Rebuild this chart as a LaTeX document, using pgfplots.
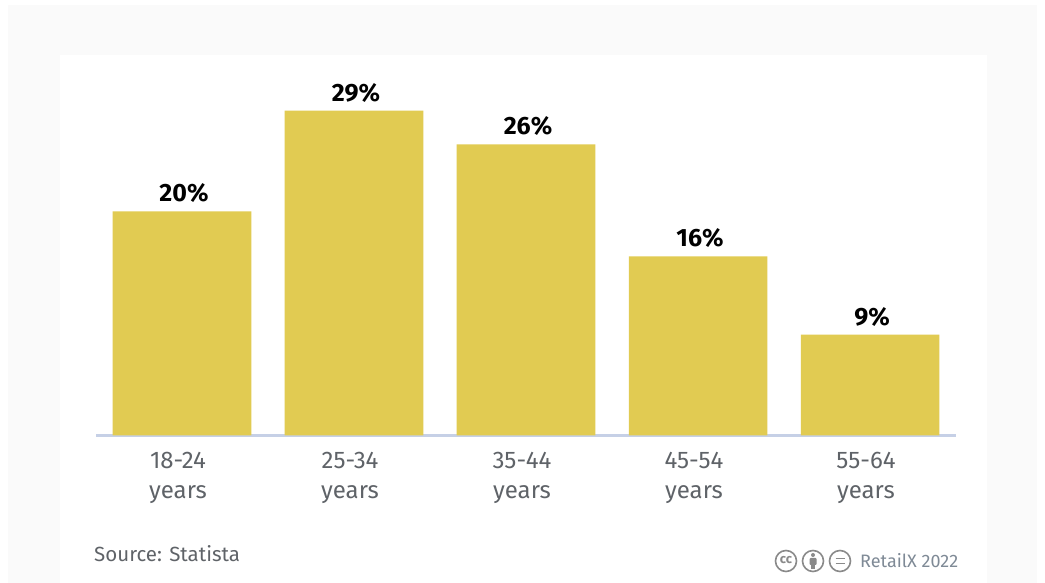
\documentclass[border=0pt]{standalone}
\usepackage{fontspec}
\setmainfont{Fira Sans}
\usepackage{pgfplots}
\pgfplotsset{compat=1.18}
\definecolor{barfill}{HTML}{E1CB52}
\definecolor{axisrule}{HTML}{C6D0E6}
\definecolor{labelgrey}{HTML}{5F6368}
\definecolor{panel}{HTML}{FAFAFA}
\definecolor{ccgrey}{HTML}{8A8A8A}
\definecolor{brandgrey}{HTML}{7F8A96}
\begin{document}
\begin{tikzpicture}[x=1pt,y=1pt]
  % page, outer panel and inner card
  \path[use as bounding box,fill=white] (0,0) rectangle (1045,583);
  \fill[panel] (8,0) rectangle (1037,578);
  \fill[white] (60,0) rectangle (987,528);
  \begin{axis}[
    at={(96pt,147.5pt)}, anchor=south west,
    scale only axis, width=860pt, height=358.4pt,
    xmin=-0.5, xmax=4.5, ymin=0, ymax=32,
    hide y axis,
    axis x line*=bottom,
    x axis line style={draw=axisrule,line width=3.5pt,-},
    xtick={0,1,2,3,4},
    xticklabels={18-24\\years,25-34\\years,35-44\\years,45-54\\years,55-64\\years},
    x tick label style={align=center,font=\fontsize{24}{30}\selectfont,text=labelgrey,
      yshift=-13pt,xshift=-4pt},
    major tick length=0pt,
    ybar, bar width=138.5pt,
    nodes near coords={\pgfmathprintnumber[assume math mode=true]{\pgfplotspointmeta}\%},
    nodes near coords style={font=\fontsize{25}{28}\bfseries\selectfont,text=black,yshift=5pt,xshift=2pt},
    clip=false,
  ]
    \addplot[fill=barfill,draw=none] coordinates {(0,20) (1,29) (2,26) (3,16) (4,9)};
  \end{axis}
  % source line and licence footer
  \node[anchor=west,inner sep=0pt,text=labelgrey,font=\fontsize{20.5}{24}\selectfont] at (94,29) {Source: Statista};
  \draw[ccgrey,line width=1.6pt] (786,22) circle (10.5pt);
  \node[text=ccgrey,font=\fontsize{13}{13}\bfseries\selectfont] at (786,22.5) {cc};
  \draw[ccgrey,line width=1.6pt] (813,22) circle (10.5pt);
  \fill[ccgrey] (813,28) circle (2pt);
  \fill[ccgrey,rounded corners=1pt] (809.5,25) rectangle (816.5,18);
  \fill[ccgrey] (810.8,19) rectangle (815.2,13.5);
  \draw[ccgrey,line width=1.6pt] (840,22) circle (10.5pt);
  \draw[ccgrey,line width=1.6pt] (835.5,24.5) -- (844.5,24.5) (835.5,19.5) -- (844.5,19.5);
  \node[anchor=west,inner sep=0pt,text=brandgrey,font=\fontsize{18}{20}\selectfont] at (860,22) {RetailX 2022};
\end{tikzpicture}
\end{document}
